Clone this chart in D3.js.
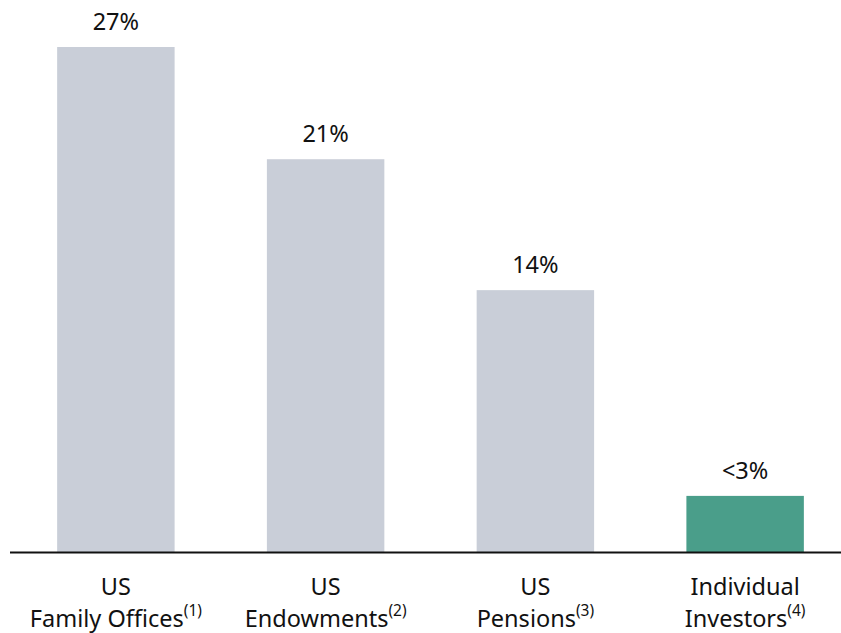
<!DOCTYPE html>
<style>
body { margin: 0; background: #fff; }
text { font-family: "Noto Sans", "Open Sans", sans-serif; fill: #111; }
</style>
<svg width="841" height="633"></svg>
<script src="https://d3js.org/d3.v7.min.js"></script>
<script>

var categories = ["US|Family Offices", "US|Endowments", "US|Pensions", "Individual|Investors"];
var notes = ["(1)", "(2)", "(3)", "(4)"];
var values = [27, 21, 14, 3];
var valueLabels = ["27%", "21%", "14%", "<3%"];
var barColors = ["#c9ced8", "#c9ced8", "#c9ced8", "#4a9e8a"];

var svg = d3.select("svg"),
    baseline = 552;

var x = d3.scaleBand()
    .domain(categories)
    .range([11, 850])
    .paddingInner(0.44)
    .paddingOuter(0.22);

var y = d3.scaleLinear()
    .domain([0, 27])
    .range([baseline, 47]);

var data = categories.map(function(c, i) {
  return {cat: c, value: values[i], label: valueLabels[i], note: notes[i], color: barColors[i]};
});

svg.append("g")
  .selectAll("rect")
  .data(data)
  .enter().append("rect")
    .attr("x", function(d) { return x(d.cat); })
    .attr("y", function(d) { return y(d.value); })
    .attr("width", x.bandwidth())
    .attr("height", function(d) { return baseline - y(d.value); })
    .attr("fill", function(d) { return d.color; });

svg.append("g")
  .selectAll("text")
  .data(data)
  .enter().append("text")
    .attr("x", function(d) { return x(d.cat) + x.bandwidth() / 2; })
    .attr("y", function(d) { return y(d.value) - 17; })
    .attr("text-anchor", "middle")
    .attr("font-size", 23.5)
    .text(function(d) { return d.label; });

// baseline
svg.append("line")
    .attr("x1", 10)
    .attr("x2", 841)
    .attr("y1", baseline + 0.5)
    .attr("y2", baseline + 0.5)
    .attr("stroke", "#111")
    .attr("stroke-width", 2);

// category labels, two lines, footnote as superscript
var cats = svg.append("g")
  .selectAll("text")
  .data(data)
  .enter().append("text")
    .attr("text-anchor", "middle")
    .attr("font-size", 23.5);

cats.append("tspan")
    .attr("x", function(d) { return x(d.cat) + x.bandwidth() / 2; })
    .attr("y", 595)
    .text(function(d) { return d.cat.split("|")[0]; });

cats.append("tspan")
    .attr("x", function(d) { return x(d.cat) + x.bandwidth() / 2; })
    .attr("y", 627)
    .text(function(d) { return d.cat.split("|")[1]; })
  .append("tspan")
    .attr("dy", -11)
    .attr("font-size", 15.5)
    .text(function(d) { return d.note; });

</script>
